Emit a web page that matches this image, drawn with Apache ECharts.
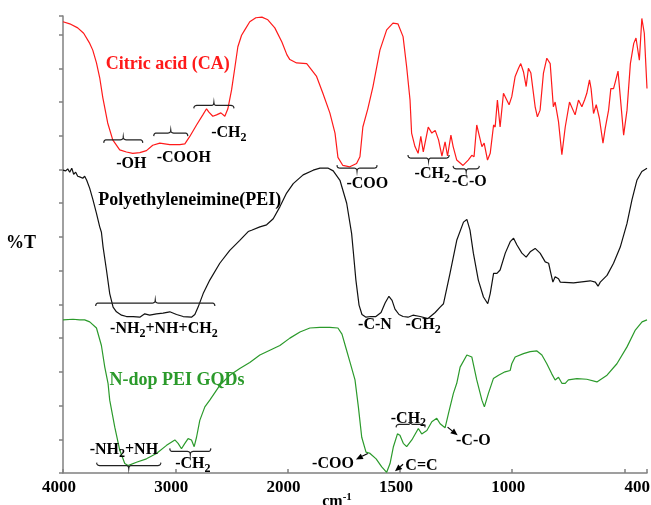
<!DOCTYPE html>
<html>
<head>
<meta charset="utf-8">
<title>FTIR spectra</title>
<script src="https://cdn.jsdelivr.net/npm/echarts@6.0.0/dist/echarts.min.js"></script>
<style>
  html, body { margin: 0; padding: 0; background: #fff; }
  #chart { width: 651px; height: 505px; }
</style>
</head>
<body>
<div id="chart"></div>
<script>
// ---- Spectra: wavenumber (cm-1) and transmittance (arbitrary offset units) ----
const caWn = [4000,3940,3869,3816,3762,3735,3702,3673,3646,3602,3557,3495,3435,3379,3316,3257,3201,3138,3049,2960,2915,2871,2811,2755,2722,2701,2666,2633,2594,2559,2532,2499,2469,2443,2410,2381,2337,2283,2229,2176,2114,2051,2006,1990,1960,1915,1871,1843,1812,1789,1776,1754,1723,1693,1678,1665,1643,1620,1589,1559,1531,1509,1486,1470,1455,1448,1433,1419,1407,1396,1374,1358,1343,1328,1313,1299,1288,1273,1263,1247,1219,1196,1180,1170,1158,1146,1135,1125,1110,1098,1083,1076,1066,1054,1039,1032,1014,1002,987,972,962,950,938,928,917,898,888,876,861,846,831,817,809,794,779,764,745,720,705,690,678,668,656,649,638,626,612,596,586,571,561,549,541,529,519,504,489,474,459,449,434,423,412,400];
const caT  = [66.9,66.6,66.0,65.2,63.7,62.7,60.8,58.6,55.7,51.9,49.4,47.9,47.6,47.4,47.5,47.8,48.6,48.9,48.7,48.7,48.8,49.9,51.6,53.1,54.0,53.5,52.9,53.1,53.4,52.9,54.0,56.8,60.2,63.2,64.9,65.7,66.9,67.5,67.6,67.2,66.0,63.9,62.0,61.3,60.8,60.7,58.8,56.3,53.4,50.4,46.8,45.6,45.4,45.9,46.9,51.3,54.0,57.3,62.7,65.7,66.7,66.6,64.7,60.2,55.3,50.4,48.4,47.4,49.9,47.6,51.3,50.4,50.8,49.4,47.0,49.1,47.0,50.1,48.4,46.4,45.6,46.4,47.1,46.9,51.6,49.9,48.4,48.9,46.4,47.4,51.6,51.3,55.3,51.3,56.3,56.5,54.6,55.8,58.8,60.0,60.7,59.5,57.3,60.0,59.3,54.3,52.8,53.8,59.3,61.5,60.7,54.3,55.0,52.1,47.2,51.3,55.0,53.1,55.3,54.3,55.3,56.3,58.3,57.0,53.3,54.6,52.6,48.9,51.1,53.8,57.0,57.0,58.0,59.6,55.8,50.1,53.8,60.7,63.7,64.5,61.2,67.4,65.2,57.0];

const peiWn = [4000,3976,3958,3940,3922,3905,3887,3869,3851,3824,3807,3789,3762,3733,3702,3673,3658,3643,3613,3584,3554,3524,3479,3435,3376,3316,3272,3228,3168,3109,3049,2989,2930,2856,2826,2797,2752,2693,2604,2515,2426,2351,2321,2247,2187,2128,2068,2009,1975,1931,1886,1856,1819,1797,1767,1737,1715,1708,1696,1682,1669,1651,1629,1607,1584,1566,1549,1535,1522,1504,1486,1464,1442,1410,1375,1343,1321,1306,1277,1247,1217,1202,1188,1173,1151,1128,1109,1098,1083,1068,1054,1031,1009,994,979,957,938,920,898,876,853,838,828,819,809,794,786,727,653,630,618,608,578,549,519,489,467,445,423,400];
const peiT  = [44.9,44.8,45.1,44.6,45.2,44.3,44.6,44.0,43.9,43.7,44.0,43.4,42.2,40.5,38.5,36.5,35.7,33.5,30.1,26.6,24.6,23.9,23.4,23.2,23.2,23.1,23.6,23.4,23.6,23.7,23.9,23.5,23.2,23.1,23.5,24.6,26.6,28.6,31.1,33.0,34.5,35.8,36.0,36.5,36.8,37.7,39.5,41.5,42.9,44.2,44.9,45.2,45.2,44.8,43.4,40.0,35.5,33.0,28.6,24.9,23.5,23.1,23.2,23.2,23.8,25.2,26.2,25.6,24.3,23.5,23.2,23.1,23.4,23.2,22.9,23.8,24.6,25.1,29.6,34.5,37.2,37.6,36.0,32.6,28.6,26.1,25.1,26.6,29.6,29.6,30.1,32.6,34.3,34.8,33.8,32.6,32.0,32.8,33.3,32.6,31.3,31.1,29.6,28.3,29.1,28.8,28.3,28.2,28.5,28.3,27.7,28.3,29.3,31.1,33.5,37.0,40.5,43.4,44.7,45.2];

const gqdWn = [4000,3911,3851,3807,3762,3702,3658,3628,3599,3584,3539,3495,3450,3421,3346,3257,3168,3078,3004,2975,2945,2915,2886,2856,2832,2811,2782,2737,2693,2604,2515,2426,2337,2247,2158,2069,1990,1945,1901,1856,1812,1776,1758,1740,1722,1700,1685,1670,1651,1633,1606,1581,1559,1544,1529,1511,1500,1485,1470,1447,1418,1403,1380,1358,1336,1321,1299,1284,1262,1247,1232,1202,1180,1158,1135,1124,1106,1084,1061,1032,1009,1002,987,950,920,890,868,846,824,809,794,779,764,750,712,668,623,578,534,489,452,422,400];
const gqdT  = [22.7,22.8,22.7,22.7,22.4,21.5,18.9,15.7,13.3,10.8,6.8,3.4,1.4,1.1,1.6,2.1,2.9,4.1,4.9,4.4,3.6,4.4,5.1,4.9,3.9,5.3,7.8,9.8,10.8,13.0,14.5,15.5,16.4,17.5,18.2,18.9,20.0,20.9,21.5,21.6,21.6,21.5,20.6,18.5,16.4,13.8,9.8,5.3,3.1,2.9,2.1,0.9,0.1,1.4,3.9,5.8,5.6,4.4,3.9,4.9,6.6,5.8,6.3,7.6,8.1,7.3,6.7,8.8,11.8,13.3,15.7,17.5,17.2,13.8,10.8,9.8,11.8,14.0,14.5,15.0,15.2,16.2,17.2,17.7,18.0,18.1,17.5,16.2,14.7,13.8,14.2,13.3,13.3,13.8,14.0,13.9,13.5,14.5,16.2,18.7,21.2,22.4,22.7];

// ---- Axis tick marks and labels (wavenumber) ----
const xTickWn  = [4000, 3000, 2000, 1500, 1000, 500, 400];
const xLabelWn = [4000, 3000, 2000, 1500, 1000, 400];

// The wavenumber axis is compressed 2:1 above 2000 cm-1
function toU(wn) { return wn >= 2000 ? (4000 - wn) / 1000 : 2 + (2000 - wn) / 500; }
function fromU(u) { return u <= 2 ? 4000 - 1000 * u : 2000 - 500 * (u - 2); }

const Y_MAX = 67.76;
const yTicks = [];
for (let v = 0; v <= 65; v += 5) yTicks.push(v);
yTicks.push(Y_MAX);

const AXIS = '#808080';
const SERIF = '"Liberation Serif", "Times New Roman", serif';
const COLORS = { ca: '#ff1a1a', pei: '#111111', gqd: '#2b9a2b' };
const X_LABEL_SIZE = 17, X_LABEL_MARGIN = 6;

const chart = echarts.init(document.getElementById('chart'), null, { renderer: 'canvas' });

function pairs(wn, t) { return wn.map((w, i) => [toU(w), t[i]]); }
function lineSeries(name, wn, t, color) {
  return {
    name, type: 'line', data: pairs(wn, t), showSymbol: false, symbol: 'none',
    smooth: false, lineStyle: { color, width: 1.2 }, itemStyle: { color },
    emphasis: { disabled: true }, silent: true, z: 3
  };
}

// the last label (axis end) is drawn separately so it can sit flush with the right edge
const axisLabelWn = xLabelWn.slice(0, -1);
const endLabelWn = xLabelWn[xLabelWn.length - 1];

chart.setOption({
  animation: false,
  grid: { left: 63, right: 4, top: 16, bottom: 32 },
  xAxis: {
    type: 'value', min: 0, max: toU(400),
    axisLine: { show: true, lineStyle: { color: AXIS, width: 1.5 } },
    axisTick: { show: true, customValues: xTickWn.map(toU), inside: true, length: 4,
                lineStyle: { color: AXIS, width: 1.5 } },
    axisLabel: { show: true, customValues: axisLabelWn.map(toU),
                 formatter: v => String(Math.round(fromU(v))),
                 color: '#000', fontFamily: SERIF, fontWeight: 'bold', fontSize: X_LABEL_SIZE,
                 margin: X_LABEL_MARGIN, padding: [0, 8, 0, 0] },
    splitLine: { show: false }
  },
  yAxis: {
    type: 'value', min: 0, max: Y_MAX,
    axisLine: { show: true, lineStyle: { color: AXIS, width: 1.5 } },
    axisTick: { show: true, customValues: yTicks, inside: false, length: 4,
                lineStyle: { color: AXIS, width: 1.5 } },
    axisLabel: { show: false },
    splitLine: { show: false }
  },
  series: [
    lineSeries('Citric acid (CA)', caWn, caT, COLORS.ca),
    lineSeries('Polyethyleneimine(PEI)', peiWn, peiT, COLORS.pei),
    lineSeries('N-dop PEI GQDs', gqdWn, gqdT, COLORS.gqd)
  ]
});

// ---- Annotations, anchored in data space (wavenumber, T) ----
const labels = [
  { parts: [['Citric acid (CA)']], wn: 3067, t: 60.6, color: COLORS.ca, size: 18 },
  { parts: [['Polyethyleneimine(PEI)']], wn: 2871, t: 40.4, color: '#000', size: 18 },
  { parts: [['N-dop PEI GQDs']], wn: 2985, t: 13.7, color: COLORS.gqd, size: 18 },
  { parts: [['-OH']], wn: 3392, t: 45.8 },
  { parts: [['-COOH']], wn: 2924, t: 46.8 },
  { parts: [['-CH'], ['2', 'sub']], wn: 2523, t: 50.4 },
  { parts: [['-COO']], wn: 1645, t: 42.8 },
  { parts: [['-CH'], ['2', 'sub']], wn: 1356, t: 44.3 },
  { parts: [['-C-O']], wn: 1191, t: 43.1 },
  { parts: [['-NH'], ['2', 'sub'], ['+NH+CH'], ['2', 'sub']], wn: 3102, t: 21.3 },
  { parts: [['-C-N']], wn: 1611, t: 21.9 },
  { parts: [['-CH'], ['2', 'sub']], wn: 1397, t: 21.9 },
  { parts: [['-NH'], ['2', 'sub'], ['+NH']], wn: 3458, t: 3.5 },
  { parts: [['-CH'], ['2', 'sub']], wn: 2844, t: 1.3 },
  { parts: [['-COO']], wn: 1798, t: 1.4 },
  { parts: [['C=C']], wn: 1404, t: 1.0 },
  { parts: [['-CH'], ['2', 'sub']], wn: 1462, t: 8.1 },
  { parts: [['-C-O']], wn: 1173, t: 4.7 }
];

// dir 1: ends bend down, centre tip up; dir -1: the reverse
const braces = [
  { from: 3637, to: 3290, t: 49.4, dir: 1 },
  { from: 3192, to: 2889, t: 50.4, dir: 1 },
  { from: 2835, to: 2478, t: 54.5, dir: 1 },
  { from: 3709, to: 2648, t: 25.2, dir: 1 },
  { from: 1780, to: 1602, t: 45.2, dir: -1 },
  { from: 1464, to: 1281, t: 46.7, dir: -1 },
  { from: 1263, to: 1147, t: 45.1, dir: -1 },
  { from: 3700, to: 3129, t: 1.1, dir: -1 },
  { from: 3049, to: 2684, t: 3.2, dir: -1 },
  { from: 1517, to: 1388, t: 7.2, dir: 1 }
];

// Arrow tail -> head
const arrows = [
  { from: [1643, 2.9], to: [1696, 2.0] },
  { from: [1486, 1.3], to: [1522, 0.25] },
  { from: [1288, 6.8], to: [1243, 5.6] }
];

const measureCtx = document.createElement('canvas').getContext('2d');
function fontOf(size) { return 'bold ' + size + 'px ' + SERIF; }
function textWidth(str, size) { measureCtx.font = fontOf(size); return measureCtx.measureText(str).width; }
function px(wn, t) { return chart.convertToPixel({ gridIndex: 0 }, [toU(wn), t]); }

function textEl(text, x, y, size, color, align, vAlign) {
  return {
    type: 'text', x: x, y: y, silent: true, z: 10,
    style: { text: text, fill: color, font: fontOf(size),
             align: align, verticalAlign: vAlign, textAlign: align, textVerticalAlign: vAlign }
  };
}

function labelGroup(lb) {
  const size = lb.size || 16;
  const subSize = Math.round(size * 0.72);
  const color = lb.color || '#000';
  const pieces = lb.parts.map(p => {
    const isSub = p[1] === 'sub', isSup = p[1] === 'sup';
    const s = (isSub || isSup) ? subSize : size;
    return { text: p[0], size: s, w: textWidth(p[0], s), dy: isSub ? size * 0.3 : (isSup ? -size * 0.32 : 0) };
  });
  const total = pieces.reduce((a, p) => a + p.w, 0);
  const c = px(lb.wn, lb.t);
  let x = c[0] - total / 2;
  return pieces.map(p => {
    const el = textEl(p.text, x, c[1] + p.dy, p.size, color, 'left', 'middle');
    x += p.w;
    return el;
  });
}

function bracePoints(x1, x2, y, dir, a) {
  const xm = (x1 + x2) / 2, pts = [];
  const q = (p0, p1, p2, n) => {
    for (let i = 0; i <= n; i++) {
      const s = i / n, r = 1 - s;
      pts.push([r * r * p0[0] + 2 * r * s * p1[0] + s * s * p2[0], r * r * p0[1] + 2 * r * s * p1[1] + s * s * p2[1]]);
    }
  };
  q([x1, y + dir * a], [x1, y], [x1 + a, y], 5);
  q([xm - a, y], [xm, y], [xm, y - dir * a], 5);
  q([xm, y - dir * a], [xm, y], [xm + a, y], 5);
  q([x2 - a, y], [x2, y], [x2, y + dir * a], 5);
  return pts;
}

function buildGraphics() {
  const els = [];
  labels.forEach(lb => labelGroup(lb).forEach(e => els.push(e)));
  braces.forEach(b => {
    const p1 = px(b.from, b.t), p2 = px(b.to, b.t);
    els.push({ type: 'polyline', silent: true, z: 10,
      shape: { points: bracePoints(Math.min(p1[0], p2[0]), Math.max(p1[0], p2[0]), p1[1], b.dir, 3) },
      style: { stroke: '#222', lineWidth: 1.2, fill: null } });
  });
  arrows.forEach(ar => {
    const a = px(ar.from[0], ar.from[1]), b = px(ar.to[0], ar.to[1]);
    const dx = b[0] - a[0], dy = b[1] - a[1], len = Math.hypot(dx, dy);
    const ux = dx / len, uy = dy / len, L = 7, W = 3;
    const base = [b[0] - ux * L, b[1] - uy * L];
    els.push({ type: 'line', silent: true, z: 10,
      shape: { x1: a[0], y1: a[1], x2: base[0], y2: base[1] },
      style: { stroke: '#000', lineWidth: 1.2 } });
    els.push({ type: 'polygon', silent: true, z: 10,
      shape: { points: [b, [base[0] - uy * W, base[1] + ux * W], [base[0] + uy * W, base[1] - ux * W]] },
      style: { fill: '#000' } });
  });

  const origin = px(4000, 0);
  const axisEnd = px(endLabelWn, 0);
  // end-of-axis tick label, right aligned to the plot edge
  els.push(textEl(String(endLabelWn), axisEnd[0] + 3, origin[1] + X_LABEL_MARGIN, X_LABEL_SIZE, '#000', 'right', 'top'));
  // y-axis title
  els.push(textEl('%T', origin[0] - 42, px(4000, Y_MAX / 2 + 0.2)[1], 18, '#000', 'center', 'middle'));
  // x-axis title, cm^-1
  const cx = px(1780, 0)[0], cy = origin[1] + 29;
  const w1 = textWidth('cm', 16), w2 = textWidth('-1', 11);
  const x0 = cx - (w1 + w2) / 2;
  els.push(textEl('cm', x0, cy, 16, '#000', 'left', 'middle'));
  els.push(textEl('-1', x0 + w1, cy - 5, 11, '#000', 'left', 'middle'));
  return els;
}

chart.setOption({ graphic: { elements: buildGraphics() } });
</script>
</body>
</html>
